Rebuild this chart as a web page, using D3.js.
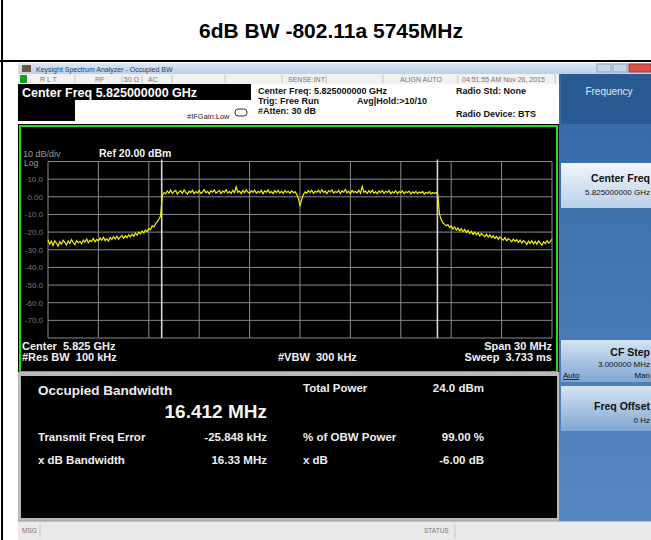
<!DOCTYPE html>
<html>
<head>
<meta charset="utf-8">
<script src="https://cdnjs.cloudflare.com/ajax/libs/d3/7.8.5/d3.min.js"></script>
<style>
  body { margin: 0; background: #fff; }
  text { font-family: "Liberation Sans", Arial, sans-serif; white-space: pre; }
</style>
</head>
<body>
<svg width="651" height="540"></svg>
<script>
// trace: 301 sweep points, center 5.825 GHz, span 30 MHz
var spanStartMHz = -15, spanStopMHz = 15, traceStepMHz = 0.1;
var traceDbm = [
  -24.3, -26.8, -25.1, -27.6, -24.9, -26.2, -28.0, -25.4, -26.9, -24.6,
  -25.8, -27.3, -25.0, -26.4, -24.2, -25.9, -27.1, -24.8, -26.0, -25.2,
  -26.6, -24.5, -25.7, -23.9, -26.1, -24.7, -25.3, -23.6, -25.5, -24.1,
  -25.0, -23.4, -24.6, -22.9, -24.8, -23.7, -25.1, -23.0, -24.2, -22.6,
  -23.9, -22.3, -24.0, -22.8, -21.9, -23.5, -22.1, -23.2, -21.5, -22.7,
  -21.2, -22.4, -20.6, -21.8, -20.1, -21.0, -19.4, -20.5, -18.8, -19.7,
  -17.9, -18.6, -16.4, -17.2, -15.3, -14.1, -12.7, -10.9, 0.6, 2.4,
  1.7, 3.3, 2.1, 3.8, 1.9, 2.9, 3.6, 1.5, 2.8, 3.4,
  2.0, 3.9, 2.5, 1.6, 3.2, 2.4, 3.7, 1.8, 3.0, 2.2,
  3.5, 1.9, 2.7, 4.1, 2.3, 3.1, 1.7, 3.4, 2.6, 3.9,
  2.1, 2.8, 3.6, 1.8, 3.3, 2.5, 4.0, 2.2, 3.0, 1.9,
  3.7, 2.4, 5.6, 2.6, 3.2, 1.8, 3.5, 2.3, 3.9, 2.7,
  1.9, 3.4, 2.5, 3.8, 2.0, 3.1, 2.4, 3.6, 1.7, 3.3,
  2.6, 3.9, 2.2, 3.0, 1.8, 3.5, 2.4, 3.7, 2.1, 3.2,
  1.9, 3.6, 2.5, 3.1, 2.0, 3.4, 2.3, 2.9, 1.5, -0.9,
  -4.9, -1.6, 1.3, 2.8, 2.0, 3.5, 2.4, 3.8, 1.9, 3.1,
  2.6, 3.7, 2.2, 4.0, 2.5, 3.2, 1.8, 3.4, 2.7, 3.9,
  2.1, 3.0, 2.4, 3.6, 1.9, 3.3, 2.6, 4.2, 2.3, 3.1,
  1.8, 3.5, 2.5, 3.0, 2.2, 3.7, 2.0, 5.9, 2.6, 3.2,
  1.9, 3.4, 2.3, 3.8, 2.1, 2.9, 1.7, 3.3, 2.4, 3.6,
  2.0, 3.1, 2.5, 3.5, 1.8, 2.8, 2.2, 3.4, 1.9, 3.0,
  2.3, 3.3, 1.7, 2.9, 2.4, 3.2, 1.6, 2.8, 2.1, 3.1,
  1.8, 2.7, 2.2, 3.0, 1.5, 2.6, 2.0, 2.9, 1.7, 2.5,
  1.9, 2.4, 1.2, -9.6, -12.9, -14.7, -15.5, -16.4, -15.8, -17.3,
  -16.5, -18.2, -17.0, -18.9, -17.6, -19.3, -18.1, -19.8, -18.5, -20.2,
  -19.0, -20.7, -19.6, -21.3, -20.0, -21.5, -20.4, -22.1, -20.8, -21.7,
  -22.5, -21.1, -22.9, -21.6, -23.2, -22.0, -23.6, -22.4, -24.1, -22.7,
  -23.8, -24.6, -23.1, -25.0, -23.7, -24.4, -25.5, -23.9, -25.2, -24.3,
  -25.8, -24.5, -26.2, -24.8, -25.6, -27.0, -25.1, -26.4, -24.9, -26.7,
  -25.3, -26.9, -25.0, -26.3, -27.4, -25.5, -26.6, -24.8, -26.2, -25.4,
  -23.9
];
var obwEdgesMHz = [-8.232, 8.180];
var refLevel = 20, dbPerDiv = 10;
var yTickValues = [10, 0, -10, -20, -30, -40, -50, -60, -70];
var yTickLabels = ["10.0", "0.00", "-10.0", "-20.0", "-30.0", "-40.0", "-50.0", "-60.0", "-70.0"];

var resultsLeft = [["Transmit Freq Error", "-25.848 kHz"], ["x dB Bandwidth", "16.33 MHz"]];
var resultsRight = [["Total Power", "24.0 dBm"], ["% of OBW Power", "99.00 %"], ["x dB", "-6.00 dB"]];

var svg = d3.select("svg");

// page title + frame lines
svg.append("text").attr("x", 331).attr("y", 38).attr("text-anchor", "middle")
    .style("font-size", "21px").style("font-weight", "bold").text("6dB BW -802.11a 5745MHz");
svg.append("line").attr("x1", 2).attr("y1", 0).attr("x2", 2).attr("y2", 540)
    .style("stroke", "#000").style("stroke-width", 2);
svg.append("line").attr("x1", 0).attr("y1", 61).attr("x2", 651).attr("y2", 61)
    .style("stroke", "#000").style("stroke-width", 2);

var scr = svg.append("g");

// window title bar
var grad = svg.append("defs");
function vgrad(id, c1, c2) {
    var g = grad.append("linearGradient").attr("id", id).attr("x1", 0).attr("y1", 0).attr("x2", 0).attr("y2", 1);
    g.append("stop").attr("offset", "0%").attr("stop-color", c1);
    g.append("stop").attr("offset", "100%").attr("stop-color", c2);
}
vgrad("tbar", "#dbe7f4", "#bcd0e6");
vgrad("softbg", "#3468a6", "#5687c0");
vgrad("btnA", "#f2f6fb", "#b9d0e8");
vgrad("btnB", "#d5e4f3", "#7ea6d2");

scr.append("rect").attr("x", 18).attr("y", 63).attr("width", 633).attr("height", 11).style("fill", "url(#tbar)");
scr.append("rect").attr("x", 22).attr("y", 65).attr("width", 9).attr("height", 7).style("fill", "#6a5a3a");
scr.append("text").attr("x", 36).attr("y", 71.5).style("font-size", "7px").style("fill", "#23406e")
    .text("Keysight Spectrum Analyzer - Occupied BW");
scr.append("rect").attr("x", 597).attr("y", 64).attr("width", 14).attr("height", 8).style("fill", "#c9d6e4").style("stroke", "#8ea3bb");
scr.append("rect").attr("x", 613).attr("y", 64).attr("width", 14).attr("height", 8).style("fill", "#c9d6e4").style("stroke", "#8ea3bb");
scr.append("rect").attr("x", 629).attr("y", 64).attr("width", 22).attr("height", 8).style("fill", "#d9534a").style("stroke", "#a33");

// status row
scr.append("rect").attr("x", 18).attr("y", 74).attr("width", 541).attr("height", 10).style("fill", "#f1f1f1");
scr.append("rect").attr("x", 20).attr("y", 75).attr("width", 7).attr("height", 8).style("fill", "#1c9a1c");
[["R L T", 40], ["RF", 95], ["50 \u03a9", 124], ["AC", 148], ["SENSE:INT", 288], ["ALIGN AUTO", 400], ["04:51:55 AM Nov 26, 2015", 462]]
    .forEach(function (d) {
        scr.append("text").attr("x", d[1]).attr("y", 81.5).style("font-size", "7px").style("fill", "#777").text(d[0]);
    });
[75, 122, 142, 172, 225, 282, 326, 383, 458, 555].forEach(function (sx) {
    scr.append("line").attr("x1", sx).attr("y1", 75).attr("x2", sx).attr("y2", 83).style("stroke", "#c4c4c4");
});

// header block
scr.append("rect").attr("x", 18).attr("y", 84).attr("width", 541).attr("height", 41).style("fill", "#fff");
scr.append("rect").attr("x", 18).attr("y", 84).attr("width", 233).attr("height", 16).style("fill", "#000");
scr.append("rect").attr("x", 18).attr("y", 100).attr("width", 57).attr("height", 21).style("fill", "#000");
scr.append("text").attr("x", 22).attr("y", 97).style("font-size", "12.5px").style("font-weight", "bold")
    .style("fill", "#fff").text("Center Freq 5.825000000 GHz");
scr.append("text").attr("x", 187).attr("y", 119).style("font-size", "7.5px").style("fill", "#222").text("#IFGain:Low");
scr.append("rect").attr("x", 235).attr("y", 109).attr("width", 12).attr("height", 7).attr("rx", 3)
    .style("fill", "none").style("stroke", "#333");
[["Center Freq: 5.825000000 GHz", 258, 94], ["Trig: Free Run", 258, 104], ["#Atten: 30 dB", 258, 114],
 ["Avg|Hold:>10/10", 357, 104], ["Radio Std: None", 456, 94], ["Radio Device: BTS", 456, 117]]
    .forEach(function (d) {
        scr.append("text").attr("x", d[1]).attr("y", d[2]).style("font-size", "9px").style("font-weight", "bold")
            .style("fill", "#111").text(d[0]);
    });

// graph window
scr.append("rect").attr("x", 18).attr("y", 124).attr("width", 541).attr("height", 250).style("fill", "#000");
scr.append("rect").attr("x", 20).attr("y", 126).attr("width", 537).attr("height", 246)
    .style("fill", "#000").style("stroke", "#1ee01e").style("stroke-width", 2);

var x = d3.scaleLinear().domain([spanStartMHz, spanStopMHz]).range([48, 552]);
var y = d3.scaleLinear().domain([refLevel - 10 * dbPerDiv, refLevel]).range([338, 161.5]);

var grid = scr.append("g");
grid.selectAll("line.v").data(d3.range(spanStartMHz, spanStopMHz + 0.01, 3)).enter()
    .append("line").attr("class", "v")
    .attr("x1", function (d) { return x(d); }).attr("x2", function (d) { return x(d); })
    .attr("y1", y(20)).attr("y2", y(-80))
    .style("stroke", "#8a8a8a").style("stroke-width", 1);
grid.selectAll("line.h").data(d3.range(-80, 20.01, 10)).enter()
    .append("line").attr("class", "h")
    .attr("x1", x(-15)).attr("x2", x(15))
    .attr("y1", function (d) { return y(d); }).attr("y2", function (d) { return y(d); })
    .style("stroke", "#8a8a8a").style("stroke-width", 1);

// OBW marker lines
grid.selectAll("line.obw").data(obwEdgesMHz).enter()
    .append("line").attr("class", "obw")
    .attr("x1", function (d) { return x(d); }).attr("x2", function (d) { return x(d); })
    .attr("y1", y(20) - 2).attr("y2", y(-80))
    .style("stroke", "#d8d8d8").style("stroke-width", 1.6);

scr.selectAll("text.ylab").data(yTickValues).enter()
    .append("text").attr("class", "ylab")
    .attr("x", 43).attr("y", function (d) { return y(d) + 3; })
    .attr("text-anchor", "end").style("font-size", "8px").style("fill", "#7a7a7a")
    .text(function (d, i) { return yTickLabels[i]; });
scr.append("text").attr("x", 23).attr("y", 157).style("font-size", "9px").style("fill", "#9a9a9a").text("10 dB/div");
scr.append("text").attr("x", 24).attr("y", 166).style("font-size", "8.5px").style("fill", "#9a9a9a").text("Log");
scr.append("text").attr("x", 99).attr("y", 157).style("font-size", "10.5px").style("font-weight", "bold")
    .style("fill", "#f2f2f2").text("Ref 20.00 dBm");

// trace
var line = d3.line()
    .x(function (d, i) { return x(spanStartMHz + i * traceStepMHz); })
    .y(function (d) { return y(d); });
scr.append("path").datum(traceDbm).attr("d", line)
    .style("fill", "none").style("stroke", "#f2f200").style("stroke-width", 1.2);

// bottom annotations
function wtxt(t, px, py, anchor) {
    scr.append("text").attr("x", px).attr("y", py).attr("text-anchor", anchor || "start")
        .style("font-size", "11px").style("font-weight", "bold").style("fill", "#f2f2f2").text(t);
}
wtxt("Center  5.825 GHz", 22, 350);
wtxt("#Res BW  100 kHz", 22, 361);
wtxt("#VBW  300 kHz", 278, 361);
wtxt("Span 30 MHz", 552, 350, "end");
wtxt("Sweep  3.733 ms", 552, 361, "end");

// results panel
scr.append("rect").attr("x", 18).attr("y", 372).attr("width", 541).attr("height", 150).style("fill", "#b9b9b9");
scr.append("rect").attr("x", 21).attr("y", 376).attr("width", 536).attr("height", 142).style("fill", "#000");
scr.append("text").attr("x", 38).attr("y", 395).style("font-size", "13.5px").style("font-weight", "bold")
    .style("fill", "#eee").text("Occupied Bandwidth");
scr.append("text").attr("x", 267).attr("y", 418).attr("text-anchor", "end").style("font-size", "19px")
    .style("font-weight", "bold").style("fill", "#f4f4f4").text("16.412 MHz");

scr.selectAll("text.rl").data(resultsLeft).enter().append("text").attr("class", "rl")
    .attr("x", 38).attr("y", function (d, i) { return 441 + i * 23; })
    .style("font-size", "11.5px").style("font-weight", "bold").style("fill", "#eee")
    .text(function (d) { return d[0]; });
scr.selectAll("text.rlv").data(resultsLeft).enter().append("text").attr("class", "rlv")
    .attr("x", 267).attr("y", function (d, i) { return 441 + i * 23; }).attr("text-anchor", "end")
    .style("font-size", "11.5px").style("font-weight", "bold").style("fill", "#eee")
    .text(function (d) { return d[1]; });
var rightY = [392, 441, 464];
scr.selectAll("text.rr").data(resultsRight).enter().append("text").attr("class", "rr")
    .attr("x", 303).attr("y", function (d, i) { return rightY[i]; })
    .style("font-size", "11.5px").style("font-weight", "bold").style("fill", "#eee")
    .text(function (d) { return d[0]; });
scr.selectAll("text.rrv").data(resultsRight).enter().append("text").attr("class", "rrv")
    .attr("x", 484).attr("y", function (d, i) { return rightY[i]; }).attr("text-anchor", "end")
    .style("font-size", "11.5px").style("font-weight", "bold").style("fill", "#eee")
    .text(function (d) { return d[1]; });

// message / status bar
scr.append("rect").attr("x", 18).attr("y", 521).attr("width", 633).attr("height", 19).style("fill", "#e9e9e9");
scr.append("line").attr("x1", 18).attr("y1", 521).attr("x2", 651).attr("y2", 521).style("stroke", "#999");
scr.append("text").attr("x", 22).attr("y", 533).style("font-size", "6.5px").style("fill", "#777").text("MSG");
scr.append("line").attr("x1", 40).attr("y1", 524).attr("x2", 40).attr("y2", 538).style("stroke", "#c8c8c8");
scr.append("text").attr("x", 424).attr("y", 533).style("font-size", "6.5px").style("fill", "#777").text("STATUS");
scr.append("line").attr("x1", 455).attr("y1", 524).attr("x2", 455).attr("y2", 538).style("stroke", "#c8c8c8");

// softkey panel
var sk = scr.append("g");
sk.append("rect").attr("x", 559).attr("y", 74).attr("width", 92).attr("height", 447).style("fill", "url(#softbg)");
sk.append("rect").attr("x", 561).attr("y", 74).attr("width", 90).attr("height", 50).style("fill", "#2a5a92");
sk.append("text").attr("x", 609).attr("y", 95).attr("text-anchor", "middle").style("font-size", "10px")
    .style("fill", "#dbe9fb").text("Frequency");
function softkey(y0, h, fillId, lines) {
    sk.append("rect").attr("x", 561).attr("y", y0).attr("width", 90).attr("height", h).style("fill", "url(#" + fillId + ")");
    lines.forEach(function (l) {
        sk.append("text").attr("x", l[1]).attr("y", y0 + l[2]).attr("text-anchor", l[4] || "end")
            .style("font-size", l[3]).style("font-weight", l[5] || "normal").style("fill", "#111")
            .style("text-decoration", l[6] || "none").text(l[0]);
    });
}
softkey(163, 45, "btnA", [["Center Freq", 650, 19, "10.5px", "end", "bold"], ["5.825000000 GHz", 650, 32, "8px"]]);
softkey(340, 42, "btnB", [["CF Step", 650, 16, "10.5px", "end", "bold"], ["3.000000 MHz", 650, 27, "8px"],
    ["Auto", 563, 38, "8px", "start", "normal", "underline"], ["Man", 650, 38, "8px"]]);
softkey(386, 45, "btnB", [["Freq Offset", 650, 24, "10.5px", "end", "bold"], ["0 Hz", 650, 37, "8px"]]);
</script>
</body>
</html>
